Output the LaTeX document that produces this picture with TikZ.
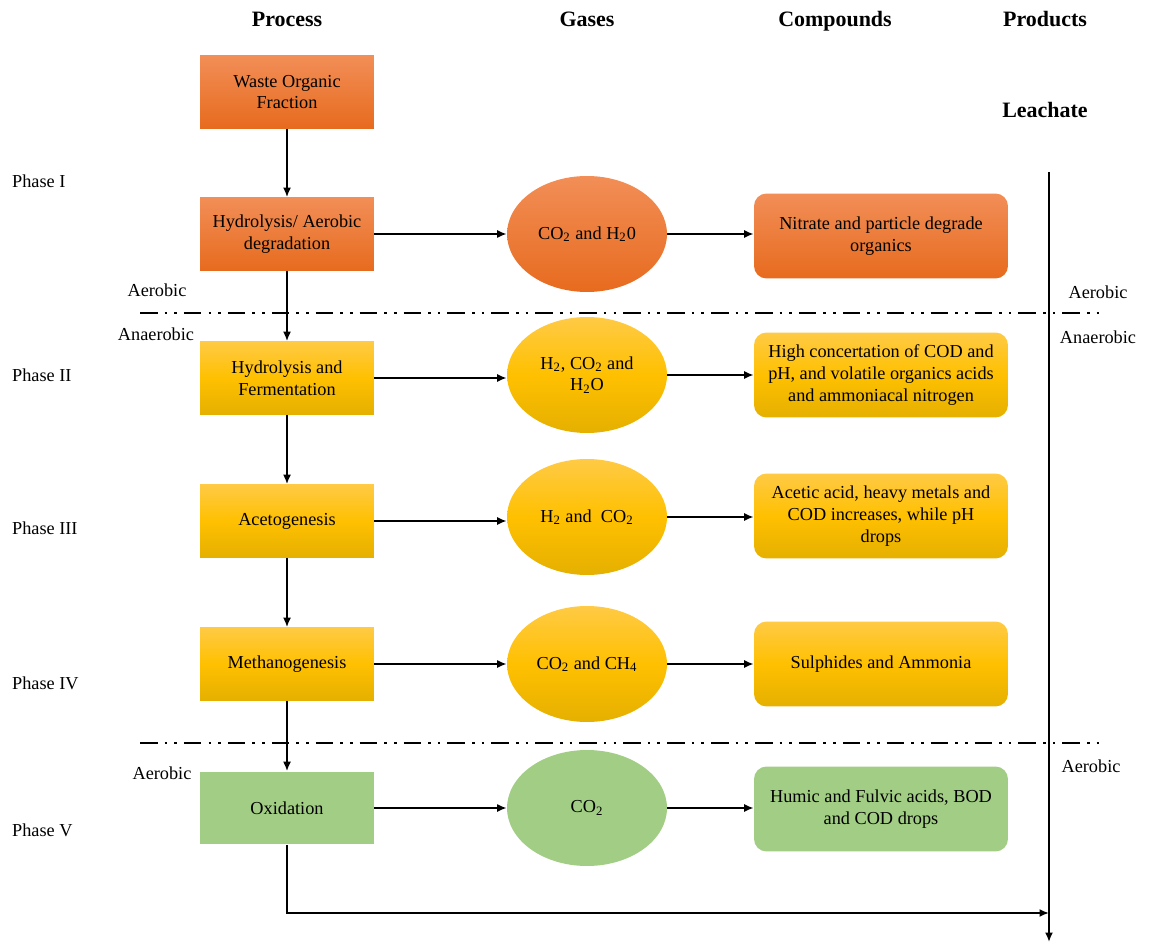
\documentclass[tikz,border=0pt]{standalone}
\usepackage{fontspec}
\setmainfont{Liberation Serif}
\usepackage{tikz}
\usetikzlibrary{arrows.meta, shapes.geometric}

\definecolor{OrTop}{HTML}{F28E57}
\definecolor{OrBot}{HTML}{E76B1E}
\definecolor{YeTop}{HTML}{FFCA45}
\definecolor{YeMid}{HTML}{FFC000}
\definecolor{YeBot}{HTML}{E5B000}
\definecolor{GrFill}{HTML}{A2CD84}

\begin{document}
\begin{tikzpicture}
    [x=0.02cm, y=-0.02cm,
     Txt/.style={font=\fontsize{10.4}{12.4}\selectfont, align=center, inner sep=1pt},
     Head/.style={font=\fontsize{12.5}{14}\selectfont\bfseries, text height=1.7ex, text depth=0.5ex},
     Proc/.style={Txt, rectangle, minimum width=3.48cm, minimum height=1.46cm},
     Gas/.style={Txt, ellipse, minimum width=3.2cm, minimum height=2.32cm},
     Comp/.style={Txt, rectangle, rounded corners=0.25cm, minimum width=5.08cm, minimum height=1.7cm},
     Orange/.style={top color=OrTop, bottom color=OrBot},
     Yellow/.style={top color=YeTop, bottom color=YeBot, middle color=YeMid},
     Green/.style={fill=GrFill},
     Arr/.style={-{Latex[length=1.9mm, width=1.6mm]}, line width=1pt},
     DashDot/.style={line width=1.1pt, dash pattern=on 10pt off 4pt on 1.5pt off 4pt on 1.5pt off 4pt}]
    \useasboundingbox (0,0) rectangle (1149,945);
	% column heads
	\node[Head] (Hproc) at (287, 22) {Process};
	\node[Head] (Hgas) at (587, 22) {Gases};
	\node[Head] (Hcomp) at (835, 22) {Compounds};
	\node[Head] (Hprod) at (1045, 22) {Products};
	\node[Head] (Hleach) at (1045, 113) {Leachate};
	% phases
	\foreach \y/\n in {181/I, 375/II, 528/III, 683/IV, 830/V}
		\node[Txt, anchor=west] (Ph\n) at (10, \y) {Phase \n};
	% process column
	\node[Proc, Orange] (Pwaste) at (287, 92) {Waste Organic\\Fraction};
	\node[Proc, Orange] (Phyd) at (287, 234) {Hydrolysis/ Aerobic\\degradation};
	\node[Proc, Yellow] (Pferm) at (287, 378) {Hydrolysis and\\Fermentation};
	\node[Proc, Yellow] (Pacet) at (287, 521) {Acetogenesis};
	\node[Proc, Yellow] (Pmeth) at (287, 664) {Methanogenesis};
	\node[Proc, Green] (Poxid) at (287, 808) {Oxidation};
	% gases column
	\node[Gas, Orange] (Ghyd) at (587, 234) {CO\textsubscript{2} and H\textsubscript{2}0};
	\node[Gas, Yellow] (Gferm) at (587, 375) {H\textsubscript{2}, CO\textsubscript{2} and\\H\textsubscript{2}O};
	\node[Gas, Yellow] (Gacet) at (587, 517) {H\textsubscript{2} and\ \ CO\textsubscript{2}};
	\node[Gas, Yellow] (Gmeth) at (587, 664) {CO\textsubscript{2} and CH\textsubscript{4}};
	\node[Gas, Green] (Goxid) at (587, 808) {CO\textsubscript{2}};
	% compounds column
	\node[Comp, Orange] (Chyd) at (881, 236) {Nitrate and particle degrade\\organics};
	\node[Comp, Yellow] (Cferm) at (881, 375) {High concertation of COD and\\pH, and volatile organics acids\\and ammoniacal nitrogen};
	\node[Comp, Yellow] (Cacet) at (881, 516) {Acetic acid, heavy metals and\\COD increases, while pH\\drops};
	\node[Comp, Yellow] (Cmeth) at (881, 664) {Sulphides and Ammonia};
	\node[Comp, Green] (Coxid) at (881, 809) {Humic and Fulvic acids, BOD\\and COD drops};
	% aerobic / anaerobic borders
	\coordinate (BoneW) at (140, 313);
	\coordinate (BoneE) at (1102, 313);
	\coordinate (BtwoW) at (140, 743);
	\coordinate (BtwoE) at (1106, 743);
	\draw[DashDot] (BoneW) -- (BoneE);
	\draw[DashDot] (BtwoW) -- (BtwoE);
	\node[Txt] (AerLone) at (157, 290) {Aerobic};
	\node[Txt] (AnaLone) at (156, 334) {Anaerobic};
	\node[Txt] (AerLtwo) at (162, 773) {Aerobic};
	\node[Txt] (AerRone) at (1098, 292) {Aerobic};
	\node[Txt] (AnaRone) at (1098, 337) {Anaerobic};
	\node[Txt] (AerRtwo) at (1091, 766) {Aerobic};
	% leachate line
	\coordinate (Ltop) at (1049, 172);
	\coordinate (Lbot) at (1049, 942);
	\coordinate (Lin) at (1049, 913);
	\coordinate (Oturn) at (287, 913);
	\draw[Arr] (Ltop) -- (Lbot);
	% arrows
	\draw[Arr] (Pwaste) -- (Phyd);
	\draw[Arr] (Phyd) -- (Pferm);
	\draw[Arr] (Pferm) -- (Pacet);
	\draw[Arr] (Pacet) -- (Pmeth);
	\draw[Arr] (Pmeth) -- (Poxid);
	\foreach \r in {hyd, ferm, acet, meth, oxid} {
		\draw[Arr] (P\r.east) -- (G\r.west |- P\r.east);
		\draw[Arr] (G\r.east) -- (C\r.west |- G\r.east);
	}
	\draw[Arr] (Poxid.south) -- (Oturn) -- (Lin);
\end{tikzpicture}
\end{document}
